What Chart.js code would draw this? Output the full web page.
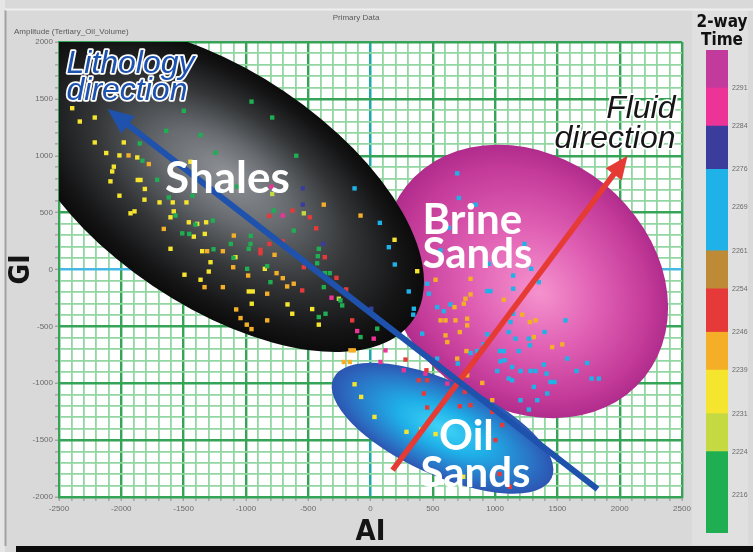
<!DOCTYPE html>
<html>
<head>
<meta charset="utf-8">
<script src="https://cdn.jsdelivr.net/npm/chart.js@4.4.1/dist/chart.umd.min.js"></script>
<style>
  html, body { margin: 0; padding: 0; background: #d9d9d9; }
  #wrap { position: relative; width: 753px; height: 552px; overflow: hidden; }
  #main { position: absolute; left: 0; top: 0; }
  #timeBar { position: absolute; left: 690px; top: 0; }
</style>
</head>
<body>
<div id="wrap">
  <canvas id="main" width="753" height="552"></canvas>
  <canvas id="timeBar" width="63" height="552"></canvas>
</div>
<script>
// ---- Two-way time classes (ms) used for the colour bar and the point colours ----
const bandLow   = [2209, 2224, 2231, 2239, 2246, 2254, 2261, 2276, 2284, 2291];
const bandHigh  = [2224, 2231, 2239, 2246, 2254, 2261, 2276, 2284, 2291, 2298];
const timeTicks = [2216, 2224, 2231, 2239, 2246, 2254, 2261, 2269, 2276, 2284, 2291];
const bandColors = ['#1fae52', '#c5da42', '#f6e52e', '#f5ae28', '#e5393a',
                    '#bf8a35', '#1fb2e8', '#3a3d9b', '#ec3398', '#c23a9c'];

// ---- Crossplot samples: [AI, GI] per time class ----
const greenPts = [[-955,1476],[-789,1336],[-1498,1395],[-1640,1219],[-1364,1182],[-1244,1026],[-596,1000],
  [-1852,1108],[-1830,956],[-1712,789],[-1619,634],[-1429,649],[-1070,728],[-1565,474],[-1405,395],
  [-1266,430],[-1511,318],[-1455,313],[-1260,178],[-1121,225],[-961,296],[-963,225],[-1100,103],
  [-977,182],[-990,6],[-829,29],[-803,-111],[-616,342],[-776,518],[-415,182],[-423,117],[-428,55],
  [-367,-32],[-327,-32],[-375,-155],[-241,-272],[-227,-316],[-361,-389],[-415,-418],[54,-520],[-80,-594]];
const yellowGreenPts = [[-789,664],[-535,494],[-254,-257]];
const yellowPts = [[-2394,1418],[-2333,1301],[-2213,1336],[-2213,1117],[-2121,1024],[-2015,1003],
  [-1980,1117],[-1872,985],[-2060,904],[-2073,862],[-2087,775],[-1868,787],[-1846,787],[-1811,708],
  [-2015,649],[-1814,614],[-1926,494],[-1894,511],[-1605,459],[-1579,511],[-1693,590],[-1587,590],
  [-1477,590],[-1458,415],[-1391,401],[-1418,289],[-1330,313],[-1319,415],[-1605,182],[-1351,161],
  [-1284,64],[-1084,108],[-1298,-18],[-1493,-46],[-1364,-90],[-977,-193],[-945,-193],[-848,6],
  [-953,-301],[-666,-307],[-468,-348],[-628,-389],[-1445,947],[-415,-485],[193,261],[375,-15],
  [-128,-1009],[-75,-1120],[32,-1296],[289,-1427],[407,-1406],[522,-1447],[744,-1822]];
const orangePts = [[-1942,1003],[-1779,927],[-1659,357],[-1311,161],[-1185,161],[-1097,298],[-1102,20],
  [-982,-53],[-754,-32],[-669,-149],[-704,-76],[-616,-125],[-1332,-155],[-770,129],[-829,-213],
  [-375,570],[-1185,-155],[-80,474],[-161,-711],[-134,-711],[-214,-813],[-166,-813],
  [-1078,-351],[-1043,-427],[-993,-485],[-955,-524],[-829,-447],
  [522,-90],[803,-82],[762,-257],[749,-301],[803,-219],[674,-331],[1070,-266],[562,-447],[602,-447],
  [682,-447],[776,-432],[1218,-397],[1279,-462],[1324,-447],[602,-579],[616,-638],[717,-550],
  [776,-491],[770,-717],[696,-783],[1311,-594],[1458,-682],[1539,-658],[776,-930],[897,-997],[977,-1149]];
const redPts = [[-813,471],[-626,518],[-487,459],[-436,362],[-811,225],[-883,173],[-883,143],[-706,248],
  [-548,-184],[-535,20],[-367,108],[-273,-73],[-195,-175],[-147,-447],[281,-792],[449,-886],
  [388,-974],[455,-974],[428,-1090],[455,-1213],[757,-1076],[717,-1202],[803,-1193],[977,-1252],
  [1057,-1368],[1003,-1500],[1035,-1798],[1118,-1910]];
const cyanPts = [[-128,713],[75,410],[147,196],[195,44],[307,-193],[348,-345],[343,-397],[415,-564],
  [455,-125],[535,-331],[535,-783],[696,845],[709,629],[843,570],[628,366],[562,167],[949,50],
  [1236,225],[1290,6],[1145,-53],[1351,-111],[1145,-169],[468,-213],[937,-190],[963,-190],[588,-366],
  [642,-307],[1145,-389],[1124,-462],[1565,-447],[937,-570],[1110,-550],[1164,-608],[1271,-608],
  [1279,-667],[1397,-550],[909,-658],[803,-734],[856,-717],[1038,-717],[1070,-717],[1190,-717],
  [1043,-807],[1078,-798],[1017,-892],[1137,-857],[1204,-892],[1284,-892],[1324,-892],[1110,-959],
  [1137,-974],[1391,-836],[1413,-915],[1445,-989],[1477,-989],[1579,-783],[1653,-892],[1739,-822],
  [1774,-959],[1832,-959],[1418,-1090],[701,-827],[1204,-1149],[1338,-1149],[1271,-1231],[1311,-1032]];
const navyPts = [[-543,713],[-543,570],[-380,225],[6,-345]];
const pinkPts = [[-795,728],[-704,474],[-313,-248],[-107,-541],[26,-608],[120,-711],[80,-813],
  [267,-886],[441,-915],[616,-1003]];

// which colour class each point list belongs to (index into bandColors)
const pointSets = [[greenPts, 0], [yellowGreenPts, 1], [yellowPts, 2], [orangePts, 3],
                   [redPts, 4], [cyanPts, 6], [navyPts, 7], [pinkPts, 8]];

// ---- Trend arrows: [tail, tip] in AI / GI units ----
const lithologyArrow = [[1822, -1930], [-2111, 1412]];
const fluidArrow     = [[177, -1763], [2063, 1000]];

// ---- Facies zones: centre and major-axis tip in AI / GI units ----
const zoneShapes = [
  { center: [1244, -105], tip: [2199, -947], ratio: 0.82, focus: [0.12, 0],
    stops: [[0, '#f592cd'], [0.45, '#e060b4'], [0.85, '#c33a98'], [1, '#b02c8c']] },
  { center: [-1220, 711], tip: [343, -442], ratio: 0.5, focus: [0, -0.15],
    stops: [[0, '#8f9397'], [0.3, '#686c70'], [0.62, '#333537'], [0.88, '#151516'], [1, '#0b0b0b']] },
  { center: [578, -1395], tip: [1454, -1832], ratio: 0.39, focus: [0, 0],
    stops: [[0, '#40d3f6'], [0.4, '#1fb0e8'], [0.8, '#2a74c6'], [1, '#2c55b2']] }
];

const zoneLabels = [
  { text: 'Shales', at: [-1148, 675], align: 'center', size: 44 },
  { text: 'Brine',  at: [417, 316],   align: 'left',   size: 42 },
  { text: 'Sands',  at: [417, 9],     align: 'left',   size: 42 },
  { text: 'Oil',    at: [770, -1588], align: 'center', size: 42 },
  { text: 'Sands',  at: [843, -1912], align: 'center', size: 42 }
];
const directionLabels = [
  { text: 'Lithology', at: [-2440, 1728], align: 'left',  color: '#1c52b0' },
  { text: 'direction', at: [-2440, 1491], align: 'left',  color: '#1c52b0' },
  { text: 'Fluid',     at: [2448, 1333],  align: 'right', color: '#161616' },
  { text: 'direction', at: [2448, 1070],  align: 'right', color: '#161616' }
];

const narrow = '"Liberation Sans Narrow", "DejaVu Sans Condensed", "Arial Narrow", sans-serif';
const plain = '"Liberation Sans", Arial, sans-serif';
const majorGreen = '#35a457', minorGreen = '#92d6a2';

function toPx(chart, p) {
  return [chart.scales.x.getPixelForValue(p[0]), chart.scales.y.getPixelForValue(p[1])];
}

// panel background, frame and header captions
const framePlugin = {
  id: 'frame',
  beforeDraw(chart) {
    const { ctx, chartArea: a } = chart;
    ctx.save();
    ctx.fillStyle = '#d9d9d9';
    ctx.fillRect(0, 0, chart.width, chart.height);
    ctx.fillStyle = '#e6e6e6';
    ctx.fillRect(0, 0, 5, chart.height);
    ctx.fillStyle = '#e0e0e0';
    ctx.fillRect(692, 10, 56, 535);
    ctx.strokeStyle = '#a2a2a2'; ctx.lineWidth = 2;
    ctx.beginPath(); ctx.moveTo(5.5, 10); ctx.lineTo(5.5, 546); ctx.stroke();
    ctx.strokeStyle = '#efefef'; ctx.lineWidth = 2;
    ctx.beginPath(); ctx.moveTo(5, 9.5); ctx.lineTo(753, 9.5); ctx.stroke();
    ctx.fillStyle = '#ffffff';
    ctx.fillRect(a.left, a.top, a.right - a.left, a.bottom - a.top);
    ctx.fillStyle = '#5a5a5a';
    ctx.font = '8px ' + plain;
    ctx.textBaseline = 'middle';
    ctx.textAlign = 'center';
    ctx.fillText('Primary Data', 356, 18);
    ctx.textAlign = 'left';
    ctx.fillText('Amplitude (Tertiary_Oil_Volume)', 14, 32);
    // heading of the time colour bar
    ctx.fillStyle = '#111111';
    ctx.font = 'bold 17px ' + narrow;
    ctx.textAlign = 'center';
    ctx.fillText('2-way', 722, 23);
    ctx.fillText('Time', 722, 41);
    ctx.restore();
  },
  afterDraw(chart) {
    const { ctx } = chart;
    ctx.save();
    ctx.fillStyle = '#0b0b0b';
    ctx.fillRect(16, 546, chart.width - 16, 6);
    ctx.restore();
  }
};

// shaded facies ellipses, drawn under the samples
const zonePlugin = {
  id: 'zones',
  beforeDatasetsDraw(chart) {
    const { ctx, chartArea: a } = chart;
    ctx.save();
    ctx.beginPath();
    ctx.rect(a.left, a.top, a.right - a.left, a.bottom - a.top);
    ctx.clip();
    zoneShapes.forEach(z => {
      const [cx, cy] = toPx(chart, z.center);
      const [tx, ty] = toPx(chart, z.tip);
      const r = Math.hypot(tx - cx, ty - cy);
      ctx.save();
      ctx.translate(cx, cy);
      ctx.rotate(Math.atan2(ty - cy, tx - cx));
      ctx.scale(1, z.ratio);
      const g = ctx.createRadialGradient(z.focus[0] * r, z.focus[1] * r, 0, 0, 0, r);
      z.stops.forEach(([o, c]) => g.addColorStop(o, c));
      ctx.fillStyle = g;
      ctx.beginPath();
      ctx.arc(0, 0, r, 0, Math.PI * 2);
      ctx.fill();
      ctx.restore();
    });
    ctx.restore();
  }
};

// arrow heads on the two trend lines
function arrowGeometry(chart, ds) {
  const p0 = [chart.scales.x.getPixelForValue(ds.data[0].x), chart.scales.y.getPixelForValue(ds.data[0].y)];
  const p1 = [chart.scales.x.getPixelForValue(ds.data[1].x), chart.scales.y.getPixelForValue(ds.data[1].y)];
  const len = Math.hypot(p1[0] - p0[0], p1[1] - p0[1]);
  const ux = (p1[0] - p0[0]) / len, uy = (p1[1] - p0[1]) / len;
  return { tip: p1, ux, uy, bx: p1[0] - ux * ds.head.length, by: p1[1] - uy * ds.head.length };
}
const arrowPlugin = {
  id: 'arrowHeads',
  beforeDatasetDraw(chart, args) {
    const ds = chart.data.datasets[args.index];
    if (!ds.head) return;
    const g = arrowGeometry(chart, ds);
    const { ctx } = chart;
    const nx = -g.uy, ny = g.ux, far = 3000;
    const bx = g.bx + g.ux * 3, by = g.by + g.uy * 3;
    ctx.save();
    ctx.beginPath();
    ctx.moveTo(bx + nx * far, by + ny * far);
    ctx.lineTo(bx - nx * far, by - ny * far);
    ctx.lineTo(bx - nx * far - g.ux * far, by - ny * far - g.uy * far);
    ctx.lineTo(bx + nx * far - g.ux * far, by + ny * far - g.uy * far);
    ctx.closePath();
    ctx.clip();
  },
  afterDatasetDraw(chart, args) {
    const ds = chart.data.datasets[args.index];
    if (!ds.head) return;
    const { ctx } = chart;
    ctx.restore();
    const g = arrowGeometry(chart, ds);
    const nx = -g.uy, ny = g.ux, w = ds.head.halfWidth;
    ctx.save();
    ctx.fillStyle = ds.borderColor;
    ctx.beginPath();
    ctx.moveTo(g.tip[0], g.tip[1]);
    ctx.lineTo(g.bx + nx * w, g.by + ny * w);
    ctx.lineTo(g.bx - nx * w, g.by - ny * w);
    ctx.closePath();
    ctx.fill();
    ctx.restore();
  }
};

// zone names and direction captions
const labelPlugin = {
  id: 'zoneLabels',
  afterDatasetsDraw(chart) {
    const { ctx } = chart;
    ctx.save();
    ctx.textBaseline = 'alphabetic';
    zoneLabels.forEach(l => {
      const [x, y] = toPx(chart, l.at);
      ctx.font = 'bold ' + l.size + 'px Lato, "Open Sans", sans-serif';
      ctx.textAlign = l.align;
      ctx.fillStyle = '#ffffff';
      ctx.fillText(l.text, x, y);
    });
    directionLabels.forEach(l => {
      const [x, y] = toPx(chart, l.at);
      ctx.font = 'italic 32px ' + plain;
      ctx.textAlign = l.align;
      ctx.lineJoin = 'round';
      ctx.lineWidth = 3.5;
      ctx.strokeStyle = '#ffffff';
      ctx.strokeText(l.text, x, y);
      ctx.fillStyle = l.color;
      ctx.fillText(l.text, x, y);
    });
    ctx.restore();
  }
};

const gridColour = ax => ctx => {
  const v = ctx.tick.value;
  if (v === 0) return ax === 'x' ? '#1fa8aa' : '#45b8e4';
  return v % 500 === 0 ? majorGreen : minorGreen;
};
const gridWidth = ctx => {
  const v = ctx.tick.value;
  if (v === 0) return 2.5;
  return v % 500 === 0 ? 2.4 : 1.8;
};
const majorLabel = v => (v % 500 === 0 ? String(v) : '');

const datasets = [
  { label: 'Lithology direction', data: lithologyArrow.map(([x, y]) => ({ x, y })), showLine: true,
    borderColor: '#1f52ad', backgroundColor: '#1f52ad', borderWidth: 6, pointRadius: 0,
    borderCapStyle: 'butt', order: -2, head: { length: 26, halfWidth: 11 } },
  { label: 'Fluid direction', data: fluidArrow.map(([x, y]) => ({ x, y })), showLine: true,
    borderColor: '#e63a35', backgroundColor: '#e63a35', borderWidth: 5.5, pointRadius: 0,
    borderCapStyle: 'butt', order: -1, head: { length: 23, halfWidth: 10 } }
].concat(pointSets.map(([pts, band]) => ({
  label: bandLow[band] + '-' + bandHigh[band] + ' ms',
  data: pts.map(([x, y]) => ({ x, y })),
  pointStyle: 'rect',
  pointRadius: 3.1,
  pointBorderWidth: 0,
  backgroundColor: bandColors[band],
  borderColor: bandColors[band]
})));

new Chart(document.getElementById('main'), {
  type: 'scatter',
  data: { datasets },
  plugins: [framePlugin, zonePlugin, arrowPlugin, labelPlugin],
  options: {
    responsive: false,
    animation: false,
    devicePixelRatio: 1,
    layout: { padding: { left: 0, top: 42, right: 71, bottom: 0 } },
    plugins: { legend: { display: false }, tooltip: { enabled: false } },
    scales: {
      x: {
        type: 'linear', min: -2500, max: 2500,
        afterFit: s => { s.height = 55; },
        ticks: { stepSize: 100, maxTicksLimit: 100, autoSkip: false, maxRotation: 0, minRotation: 0,
                 padding: 3, color: '#6b6b6b', font: { size: 8, family: plain }, callback: majorLabel },
        grid: { color: gridColour('x'), lineWidth: gridWidth, tickLength: 4, tickColor: '#8c8c8c', tickWidth: 1 },
        border: { display: true, color: majorGreen, width: 2 },
        title: { display: true, text: 'AI', color: '#141414',
                 font: { family: narrow, size: 29, weight: 'bold', lineHeight: 1 },
                 padding: { top: 0, bottom: 5 } }
      },
      y: {
        type: 'linear', min: -2000, max: 2000,
        afterFit: s => { s.width = 59; },
        ticks: { stepSize: 100, maxTicksLimit: 100, autoSkip: false, padding: 2, color: '#6b6b6b',
                 font: { size: 8, family: plain }, callback: majorLabel },
        grid: { color: gridColour('y'), lineWidth: gridWidth, tickLength: 4, tickColor: '#8c8c8c', tickWidth: 1 },
        border: { display: true, color: majorGreen, width: 2 },
        title: { display: true, text: 'GI', color: '#141414',
                 font: { family: narrow, size: 28, weight: 'bold', lineHeight: 1 },
                 padding: { top: 8, bottom: 0 } }
      }
    }
  }
});

// colour bar of two-way time
new Chart(document.getElementById('timeBar'), {
  type: 'bar',
  data: {
    labels: [''],
    datasets: bandLow.map((lo, i) => ({
      label: lo + '-' + bandHigh[i],
      data: [[lo, bandHigh[i]]],
      backgroundColor: bandColors[i],
      borderWidth: 0,
      barPercentage: 1,
      categoryPercentage: 1,
      grouped: false
    }))
  },
  options: {
    responsive: false,
    animation: false,
    devicePixelRatio: 1,
    layout: { padding: { left: 16, right: 0, top: 50, bottom: 19 } },
    plugins: { legend: { display: false }, tooltip: { enabled: false } },
    scales: {
      x: { display: false },
      y: {
        position: 'right', min: 2209, max: 2298,
        afterFit: s => { s.width = 25; },
        afterBuildTicks: s => { s.ticks = timeTicks.map(v => ({ value: v })); },
        ticks: { padding: 4, color: '#6b6b6b', font: { size: 7, family: plain },
                 callback: v => String(v) },
        grid: { display: false, drawTicks: false },
        border: { display: false }
      }
    }
  }
});
</script>
</body>
</html>
